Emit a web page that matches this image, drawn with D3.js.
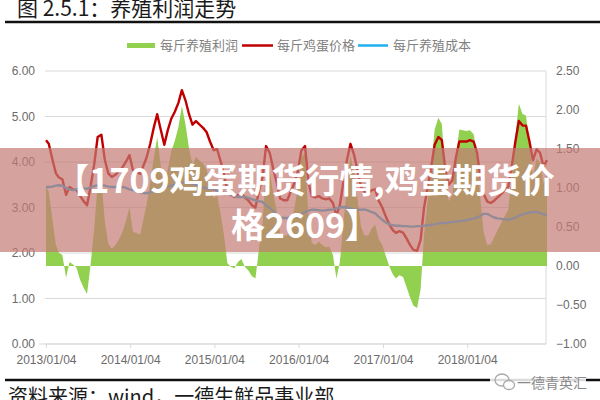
<!DOCTYPE html>
<html><head><meta charset="utf-8">
<script src="https://cdn.jsdelivr.net/npm/d3@7/dist/d3.min.js"></script>
<style>html,body{margin:0;padding:0;background:#fff;}svg{display:block;}</style>
</head><body>
<svg id="c" width="600" height="400"></svg>
<script>
// ---- data ----
const titleText = "图 2.5.1：养殖利润走势";
const seriesNames = ["每斤养殖利润", "每斤鸡蛋价格", "每斤养殖成本"];
const xTickLabels = ["2013/01/04","2014/01/04","2015/01/04","2016/01/04","2017/01/04","2018/01/04"];
const leftTicks = [0,1,2,3,4,5,6];
const rightTicks = [-1,-0.5,0,0.5,1,1.5,2,2.5];
const bannerLines = ["【1709鸡蛋期货行情,鸡蛋期货价", "格2609】"];
const sourceText = "资料来源：wind，一德生鲜品事业部";
const watermark = "一德青英汇";

// sampling dates: 2013-01-04, 2013-01-16, then the 1st and 16th of every month to 2018-12-16
const dates = ["2013-01-04","2013-01-16"];
for (let y = 2013; y <= 2018; y++) for (let m = (y===2013?2:1); m <= 12; m++) {
  const mm = String(m).padStart(2,"0");
  dates.push(`${y}-${mm}-01`, `${y}-${mm}-16`);
}

const price = [4.48,4.40,4.05,3.75,3.66,3.62,3.28,3.45,3.40,3.38,3.25,3.14,3.05,3.45,3.95,4.55,4.60,4.05,3.75,3.67,
3.72,3.80,3.88,4.00,4.15,3.82,3.78,3.74,3.90,4.10,4.40,4.75,5.05,4.72,4.38,4.70,4.95,5.10,5.30,5.58,
5.35,5.05,4.82,4.90,4.82,4.75,4.66,4.45,4.26,4.28,4.00,3.70,3.35,3.28,3.23,3.28,3.32,3.22,3.15,3.05,
3.00,3.35,3.67,4.35,4.20,3.85,3.55,3.20,3.16,3.16,3.35,3.52,3.80,4.25,4.35,3.55,3.25,3.22,3.25,3.20,
3.18,3.20,3.10,2.82,3.05,3.55,4.05,4.40,4.15,3.80,3.45,3.35,3.32,3.38,3.40,3.15,3.00,2.80,2.62,2.50,
2.44,2.48,2.45,2.32,2.18,2.07,2.05,2.29,3.00,3.42,3.90,4.38,4.55,4.48,3.85,3.50,3.60,4.10,4.45,4.45,
4.45,4.48,4.45,4.20,3.70,3.30,3.13,3.10,3.15,3.22,3.30,3.38,3.45,3.90,4.45,4.90,4.80,4.80,4.45,4.04,
4.28,4.20,3.90,4.04];

const cost = [3.45,3.45,3.46,3.48,3.49,3.48,3.43,3.40,3.38,3.40,3.43,3.42,3.41,3.44,3.47,3.49,3.49,3.48,3.46,3.45,
3.45,3.46,3.45,3.43,3.40,3.38,3.36,3.34,3.32,3.31,3.33,3.37,3.40,3.42,3.44,3.46,3.48,3.50,3.52,3.53,
3.54,3.54,3.52,3.50,3.47,3.44,3.42,3.41,3.39,3.37,3.35,3.33,3.31,3.29,3.26,3.23,3.23,3.23,3.21,3.18,
3.16,3.14,3.12,3.05,2.99,2.92,2.84,2.78,2.77,2.77,2.78,2.79,2.80,2.85,2.90,2.93,2.95,2.95,2.94,2.93,
2.94,2.95,2.96,2.98,3.00,3.01,3.00,2.98,2.96,2.95,2.95,2.96,2.93,2.90,2.87,2.80,2.73,2.67,2.63,2.61,
2.60,2.60,2.59,2.59,2.58,2.58,2.59,2.59,2.60,2.61,2.62,2.63,2.65,2.66,2.66,2.67,2.68,2.69,2.70,2.71,
2.72,2.74,2.76,2.78,2.81,2.86,2.86,2.82,2.78,2.76,2.75,2.74,2.73,2.75,2.78,2.82,2.85,2.87,2.89,2.90,
2.90,2.88,2.85,2.83];

const profit = [1.03,0.95,0.59,0.27,0.17,0.14,-0.15,0.05,0.02,-0.02,-0.18,-0.28,-0.36,0.01,0.48,1.06,1.11,0.57,0.29,0.22,
0.27,0.34,0.43,0.57,0.75,0.44,0.42,0.40,0.58,0.79,1.07,1.38,1.65,1.30,0.94,1.24,1.47,1.60,1.78,2.05,
1.81,1.51,1.30,1.40,1.35,1.31,1.24,1.04,0.87,0.91,0.65,0.37,0.04,-0.01,-0.03,0.05,0.09,-0.01,-0.06,-0.13,
-0.16,0.21,0.55,1.30,1.21,0.93,0.71,0.42,0.39,0.39,0.57,0.73,1.00,1.40,1.45,0.62,0.30,0.27,0.31,0.27,
0.24,0.25,0.14,-0.16,0.05,0.54,1.05,1.42,1.19,0.85,0.50,0.39,0.39,0.48,0.53,0.35,0.27,0.13,-0.01,-0.11,
-0.16,-0.12,-0.14,-0.27,-0.40,-0.51,-0.54,-0.30,0.40,0.81,1.28,1.75,1.90,1.82,1.19,0.83,0.92,1.41,1.75,1.74,
1.73,1.74,1.69,1.42,0.89,0.44,0.27,0.28,0.37,0.46,0.55,0.64,0.72,1.15,1.67,2.08,1.95,1.93,1.56,1.14,
1.38,1.32,1.05,1.21];

// ---- chart ----
const parse = d3.timeParse("%Y-%m-%d");
const tickParse = d3.timeParse("%Y/%m/%d");
const data = dates.map((d,i)=>({date:parse(d), price:price[i], cost:cost[i], profit:profit[i]}));

const svg = d3.select("#c");
const W = 600, H = 400;
const plot = {left:45, right:546, top:71, bottom:344};

svg.append("rect").attr("width",W).attr("height",H).attr("fill","#fff");

const x = d3.scaleTime().domain([parse(dates[0]), parse(dates[dates.length-1])]).range([46, 547]);
const yL = d3.scaleLinear().domain([0,6]).range([plot.bottom, plot.top]);
const yR = d3.scaleLinear().domain([-1,2.5]).range([plot.bottom, plot.top]);

const greenC = "#92d050", redC = "#c00000", blueC = "#1fb0ee";
const axisFont = "'Liberation Sans', Arial, sans-serif";
const cjk = "'Noto Sans CJK SC', sans-serif";

// gridlines
svg.append("g").selectAll("line").data(leftTicks).join("line")
  .attr("x1", plot.left).attr("x2", plot.right)
  .attr("y1", d=>yL(d)).attr("y2", d=>yL(d))
  .attr("stroke", "#d9d9d9").attr("stroke-width", 1);
svg.append("line").attr("x1", plot.right).attr("x2", plot.right)
  .attr("y1", plot.top).attr("y2", plot.bottom).attr("stroke","#d9d9d9");

// left axis labels
svg.append("g").selectAll("text").data(leftTicks).join("text")
  .attr("x", 35).attr("y", d=>yL(d)+4)
  .attr("text-anchor","end").attr("font-family",axisFont).attr("font-size",12)
  .attr("fill","#6b6b6b").text(d=>d3.format(".2f")(d));
// right axis labels
svg.append("g").selectAll("text").data(rightTicks).join("text")
  .attr("x", 556).attr("y", d=>yR(d)+4)
  .attr("text-anchor","start").attr("font-family",axisFont).attr("font-size",12)
  .attr("fill","#6b6b6b").text(d=>d3.format(".2f")(d));

// x axis
const xTickDates = xTickLabels.map(s=>tickParse(s));
const xg = svg.append("g").attr("transform",`translate(0,${plot.bottom})`);
xg.call(d3.axisBottom(x).tickValues(xTickDates).tickSize(4).tickFormat(d3.timeFormat("%Y/%m/%d")));
xg.select(".domain").attr("stroke","#d9d9d9").attr("d", `M${plot.left-6},0H${plot.right}`);
xg.selectAll(".tick line").attr("stroke","#d9d9d9");
xg.selectAll(".tick text").attr("font-family",axisFont).attr("font-size",12).attr("fill","#6b6b6b").attr("y",11).attr("dy","0.71em");

// profit area (right axis)
const area = d3.area().x(d=>x(d.date)).y0(yR(0)).y1(d=>yR(d.profit));
svg.append("path").datum(data).attr("d",area).attr("fill",greenC);

// price line
svg.append("path").datum(data)
  .attr("d", d3.line().x(d=>x(d.date)).y(d=>yL(d.price)))
  .attr("fill","none").attr("stroke",redC).attr("stroke-width",2.4).attr("stroke-linejoin","round");
// cost line
svg.append("path").datum(data)
  .attr("d", d3.line().x(d=>x(d.date)).y(d=>yL(d.cost)))
  .attr("fill","none").attr("stroke",blueC).attr("stroke-width",2.4).attr("stroke-linejoin","round");

// legend
const lg = svg.append("g").attr("font-family",cjk).attr("font-size",13).attr("fill","#7f7f7f");
lg.append("rect").attr("x",127).attr("y",43).attr("width",28).attr("height",5).attr("fill",greenC);
lg.append("text").attr("x",160).attr("y",50).text(seriesNames[0]);
lg.append("line").attr("x1",242).attr("x2",273).attr("y1",45.5).attr("y2",45.5).attr("stroke",redC).attr("stroke-width",2.5);
lg.append("text").attr("x",277).attr("y",50).text(seriesNames[1]);
lg.append("line").attr("x1",358).attr("x2",388).attr("y1",45.5).attr("y2",45.5).attr("stroke",blueC).attr("stroke-width",2.5);
lg.append("text").attr("x",393).attr("y",50).text(seriesNames[2]);

// title
svg.append("text").attr("x",17).attr("y",16).attr("font-family",cjk).attr("font-size",21)
  .attr("fill","#1a1a1a").text(titleText);
svg.append("line").attr("x1",5).attr("x2",600).attr("y1",22).attr("y2",22).attr("stroke","#111").attr("stroke-width",2.5);

// footer
svg.append("line").attr("x1",5).attr("x2",600).attr("y1",380).attr("y2",380).attr("stroke","#111").attr("stroke-width",2.5);
svg.append("text").attr("x",8).attr("y",404).attr("font-family",cjk).attr("font-size",20)
  .attr("fill","#1a1a1a").text(sourceText);
const wm = svg.append("g");
wm.append("rect").attr("x",490).attr("y",371).attr("width",96).attr("height",22).attr("fill","#fff").attr("opacity",0.85);
wm.append("ellipse").attr("cx",502).attr("cy",380).attr("rx",7).attr("ry",6).attr("fill","none").attr("stroke","#aaa").attr("stroke-width",1.3);
wm.append("ellipse").attr("cx",509).attr("cy",385).attr("rx",5.5).attr("ry",4.5).attr("fill","#fff").attr("stroke","#aaa").attr("stroke-width",1.3);
wm.append("text").attr("x",517).attr("y",388).attr("font-family",cjk).attr("font-size",14)
  .attr("fill","#8a8a8a").text(watermark);

// banner overlay
svg.append("rect").attr("x",0).attr("y",148).attr("width",600).attr("height",104)
  .attr("fill","rgb(196,122,115)").attr("opacity",0.7);
const bt = svg.append("g").attr("font-family",cjk).attr("font-weight",700).attr("font-size",34)
  .attr("fill","#fff").attr("text-anchor","middle");
bt.append("text").attr("x",305).attr("y",193).text(bannerLines[0]);
bt.append("text").attr("x",305).attr("y",238).text(bannerLines[1]);
</script>
</body></html>
